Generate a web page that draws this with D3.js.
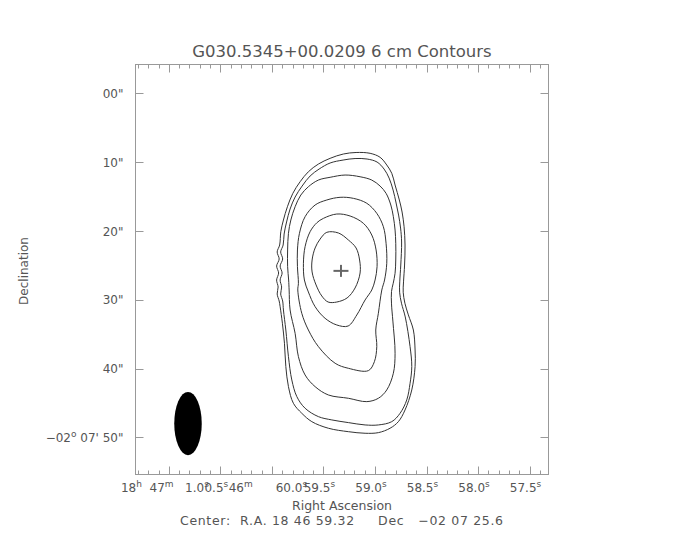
<!DOCTYPE html>
<html>
<head>
<meta charset="utf-8">
<script src="https://cdn.jsdelivr.net/npm/d3@7"></script>
<style>
  html, body { margin: 0; padding: 0; background: #fff; }
  svg { display: block; }
  text { font-family: "DejaVu Sans", sans-serif; fill: #555; white-space: pre; }
</style>
</head>
<body>
<svg id="chart" width="684" height="540"></svg>
<script>
// ---------------- data ----------------
const titleText = "G030.5345+00.0209 6 cm Contours";
const xTitle = "Right Ascension";
const yTitle = "Declination";
const centerText = "Center:  R.A. 18 46 59.32     Dec   \u221202 07 25.6";

// map centre: RA 18 46 59.32, Dec -02 07 25.6
const centerRAsec = 59.32;          // seconds after 18h 46m
const centerDecDeg = -(2 + 7 / 60 + 25.6 / 3600);
const centerDecSec = 25.6;          // arcsec after -02 07'

// RA ticks (seconds after 18h46m)
const raMajor = [61.0, 60.5, 60.0, 59.5, 59.0, 58.5, 58.0, 57.5];
const raMinor = [61.3, 61.2, 61.1, 60.9, 60.8, 60.7, 60.6, 60.4, 60.3, 60.2, 60.1,
                 59.9, 59.8, 59.7, 59.6, 59.4, 59.3, 59.2, 59.1, 58.9, 58.8, 58.7, 58.6,
                 58.4, 58.3, 58.2, 58.1, 57.9, 57.8, 57.7, 57.6, 57.4];
const raLabels = [
  [["18", "h"], ["  47", "m"], ["   1.0", "s"]],
  [["0.5", "s"]],
  [["46", "m"], ["      60.0", "s"]],
  [["59.5", "s"]],
  [["59.0", "s"]],
  [["58.5", "s"]],
  [["58.0", "s"]],
  [["57.5", "s"]]
];

// Dec ticks (arcsec after -02 07')
const decTicks = [0, 10, 20, 30, 40, 50];
const decLabels = [
  [["00\"", ""]],
  [["10\"", ""]],
  [["20\"", ""]],
  [["30\"", ""]],
  [["40\"", ""]],
  [["\u221202", "o"], [" 07' 50\"", ""]]
];

// contours: [dRA (arcsec, east +), dDec (arcsec, north +)] from map centre, outermost first
const contour1 = [[-2.05,17.02],[-4.09,16.90],[-5.54,16.32],[-6.51,15.20],[-7.24,13.99],[-7.72,12.29],
  [-8.34,10.11],[-8.74,8.36],[-9.03,6.22],[-9.17,3.56],[-9.10,0.65],[-8.95,-1.80],[-8.90,-3.30],
  [-9.15,-4.90],[-9.65,-6.60],[-10.38,-8.80],[-10.63,-11.71],[-10.63,-14.13],[-10.15,-17.52],[-9.17,-20.43],
  [-8.20,-22.13],[-6.99,-23.09],[-5.29,-23.73],[-3.36,-23.82],[-0.93,-23.59],[1.98,-23.09],
  [4.39,-22.13],[5.85,-20.91],[7.07,-19.46],[7.79,-17.04],[8.17,-14.13],[8.37,-10.73],[8.67,-7.82],
  [9.00,-5.41],[9.14,-4.58],[9.43,-3.56],[9.29,-2.55],[9.51,-1.53],[9.22,-0.51],[9.51,0.51],
  [9.14,1.53],[9.43,2.55],[9.07,3.56],[8.90,5.50],[8.52,7.20],[7.94,9.13],[7.15,11.08],[6.09,12.77],
  [4.89,14.22],[3.43,15.34],[1.73,16.17],[-0.20,16.80]];
const contour2 = [[-0.16,15.92],[-1.90,16.14],[-3.65,16.07],[-5.10,15.63],[-6.12,14.61],[-6.85,13.30],
  [-7.43,11.56],[-7.87,9.67],[-8.23,7.92],[-8.52,6.03],[-8.67,4.00],[-8.55,0.65],[-8.40,-1.80],
  [-8.38,-3.30],[-8.65,-4.90],[-9.20,-6.90],[-9.90,-11.22],[-10.15,-14.13],[-9.90,-16.55],
  [-9.42,-18.97],[-8.45,-20.91],[-7.24,-22.13],[-5.29,-22.61],[-3.36,-22.61],[-0.93,-22.27],
  [1.48,-21.88],[3.43,-21.40],[5.37,-20.18],[6.57,-18.49],[7.30,-16.07],[7.79,-12.68],[8.17,-8.80],
  [8.52,-5.89],[8.63,-4.58],[8.92,-3.56],[8.78,-2.55],[9.00,-1.53],[8.71,-0.51],[9.00,0.51],
  [8.63,1.53],[8.92,2.55],[8.56,3.56],[8.42,5.16],[8.06,6.91],[7.55,8.80],[6.82,10.54],[5.80,12.14],
  [4.64,13.60],[3.33,14.61],[1.73,15.49]];
const contour3 = [[1.73,13.41],[-0.45,13.74],[-2.63,13.49],[-4.33,13.01],[-5.54,12.14],[-6.41,11.08],
  [-7.10,9.38],[-7.47,7.68],[-7.72,5.74],[-7.82,3.81],[-7.82,1.38],[-7.72,-0.55],[-7.45,-2.00],
  [-7.20,-3.20],[-7.20,-5.00],[-7.40,-7.50],[-7.72,-12.19],[-7.47,-15.09],[-6.51,-17.52],
  [-5.29,-18.73],[-3.61,-19.22],[-0.93,-18.73],[1.98,-18.25],[3.91,-17.04],[5.37,-15.34],
  [6.34,-12.68],[6.82,-9.28],[7.55,-5.89],[7.69,-2.98],[7.76,-1.53],[7.91,0.41],[7.91,2.84],
  [7.79,5.26],[7.44,7.20],[6.82,9.13],[5.99,10.83],[4.89,12.04],[3.43,13.01]];
const contour4 = [[2.21,10.11],[0.28,10.50],[-1.66,10.35],[-3.61,9.63],[-5.06,8.17],[-6.02,6.22],
  [-6.41,3.81],[-6.51,0.90],[-6.19,-1.53],[-5.79,-2.98],[-5.29,-6.37],[-4.91,-8.80],[-5.06,-11.22],
  [-4.71,-13.41],[-3.84,-14.71],[-0.93,-14.37],[1.00,-13.64],[3.43,-11.22],[4.89,-8.80],
  [5.85,-6.37],[6.43,-2.98],[6.34,-2.01],[6.48,0.41],[6.48,2.84],[6.19,5.26],[5.37,7.68],[3.91,9.38]];
const contour5 = [[2.70,7.44],[0.76,8.07],[-1.18,7.78],[-3.11,6.72],[-4.33,5.02],[-4.96,2.84],
  [-5.10,0.41],[-4.81,-1.53],[-4.33,-2.98],[-3.36,-4.43],[-2.15,-6.62],[-0.89,-8.22],[0.76,-8.07],
  [2.46,-7.10],[3.91,-5.41],[4.89,-3.27],[5.47,-1.53],[5.61,0.90],[5.37,3.32],[4.64,5.50],[3.66,6.80]];
const contour6 = [[2.21,5.41],[0.52,5.31],[-0.93,4.29],[-2.05,3.13],[-2.56,1.38],[-2.63,-0.51],
  [-1.90,-2.69],[-0.74,-4.14],[0.76,-4.73],[2.02,-4.73],[2.94,-3.85],[3.77,-2.25],[4.35,-0.36],
  [4.35,1.38],[3.91,3.13],[3.18,4.43]];
const contours = [contour1, contour2, contour3, contour4, contour5, contour6];

// source position marker (arcsec offset)
const sourcePos = [0.15, -0.2];
// beam: FWHM major/minor (arcsec), PA (deg), centre offset (arcsec)
const beamMaj = 9.2, beamMin = 4.0, beamPA = 0;
const beamPos = [22.4, -22.4];

// ---------------- drawing ----------------
const svg = d3.select("#chart");
const L = 135.5, R = 548.5, T = 64.5, B = 474.5;
const halfX = (R - L) / 2 / 6.875, halfY = (B - T) / 2 / 6.875;
const x = d3.scaleLinear().domain([halfX, -halfX]).range([L, R]);
const y = d3.scaleLinear().domain([halfY, -halfY]).range([T, B]);
const raOff = s => (s - centerRAsec) * 15 * Math.cos(centerDecDeg * Math.PI / 180);
const decOff = s => centerDecSec - s;

const axisCol = "#999";

// frame
svg.append("rect").attr("x", L).attr("y", T).attr("width", R - L).attr("height", B - T)
  .attr("fill", "none").attr("stroke", axisCol).attr("stroke-width", 1);

// RA ticks (bottom and top)
const tickG = svg.append("g").attr("stroke", axisCol).attr("stroke-width", 1);
function raTick(vals, len) {
  vals.forEach(v => {
    const px = Math.round(x(raOff(v))) + 0.5;
    tickG.append("line").attr("x1", px).attr("x2", px).attr("y1", B).attr("y2", B - len);
    tickG.append("line").attr("x1", px).attr("x2", px).attr("y1", T).attr("y2", T + len);
  });
}
raTick(raMinor, 4);
raTick(raMajor, 8);

// Dec ticks (left and right)
decTicks.forEach(v => {
  const py = Math.round(y(decOff(v))) + 0.5;
  tickG.append("line").attr("x1", L).attr("x2", L + 8).attr("y1", py).attr("y2", py);
  tickG.append("line").attr("x1", R).attr("x2", R - 8).attr("y1", py).attr("y2", py);
});

function addParts(t, parts) {
  let raised = false;
  parts.forEach(p => {
    const base = t.append("tspan").text(p[0]);
    if (raised) { base.attr("dy", 5); raised = false; }
    if (p[1]) {
      t.append("tspan").attr("font-size", 9).attr("dy", -5).text(p[1]);
      raised = true;
    }
  });
}

// RA labels
raMajor.forEach((v, i) => {
  const t = svg.append("text").attr("x", x(raOff(v)) - 4).attr("y", 492)
    .attr("font-size", 12).attr("text-anchor", "middle");
  addParts(t, raLabels[i]);
});

// Dec labels
decTicks.forEach((v, i) => {
  const t = svg.append("text").attr("x", 123.5).attr("y", y(decOff(v)) + 4.5)
    .attr("font-size", 12).attr("text-anchor", "end");
  addParts(t, decLabels[i]);
});

// titles
svg.append("text").attr("x", 342).attr("y", 57).attr("font-size", 16.5)
  .attr("text-anchor", "middle").text(titleText);
svg.append("text").attr("x", 342).attr("y", 510).attr("font-size", 12.5)
  .attr("text-anchor", "middle").text(xTitle);
svg.append("text").attr("x", 341.5).attr("y", 525).attr("font-size", 12.5)
  .attr("text-anchor", "middle").attr("textLength", 323).attr("lengthAdjust", "spacing")
  .text(centerText);
svg.append("text").attr("transform", "translate(28,271) rotate(-90)").attr("font-size", 12)
  .attr("text-anchor", "middle").text(yTitle);

// contours
const line = d3.line().x(d => x(d[0])).y(d => y(d[1])).curve(d3.curveCatmullRomClosed.alpha(0.5));
svg.append("g").selectAll("path").data(contours).join("path")
  .attr("d", line).attr("fill", "none").attr("stroke", "#333").attr("stroke-width", 1);

// source marker
const sx = x(sourcePos[0]), sy = y(sourcePos[1]);
svg.append("line").attr("x1", sx - 7.5).attr("x2", sx + 7.5).attr("y1", sy).attr("y2", sy)
  .attr("stroke", "#666").attr("stroke-width", 2);
svg.append("line").attr("x1", sx).attr("x2", sx).attr("y1", sy - 6).attr("y2", sy + 6)
  .attr("stroke", "#666").attr("stroke-width", 2);

// beam
const pxPerArcsec = Math.abs(x(1) - x(0));
svg.append("ellipse").attr("cx", x(beamPos[0])).attr("cy", y(beamPos[1]))
  .attr("rx", beamMin / 2 * pxPerArcsec).attr("ry", beamMaj / 2 * pxPerArcsec)
  .attr("transform", `rotate(${-beamPA},${x(beamPos[0])},${y(beamPos[1])})`)
  .attr("fill", "#000");
</script>
</body>
</html>
